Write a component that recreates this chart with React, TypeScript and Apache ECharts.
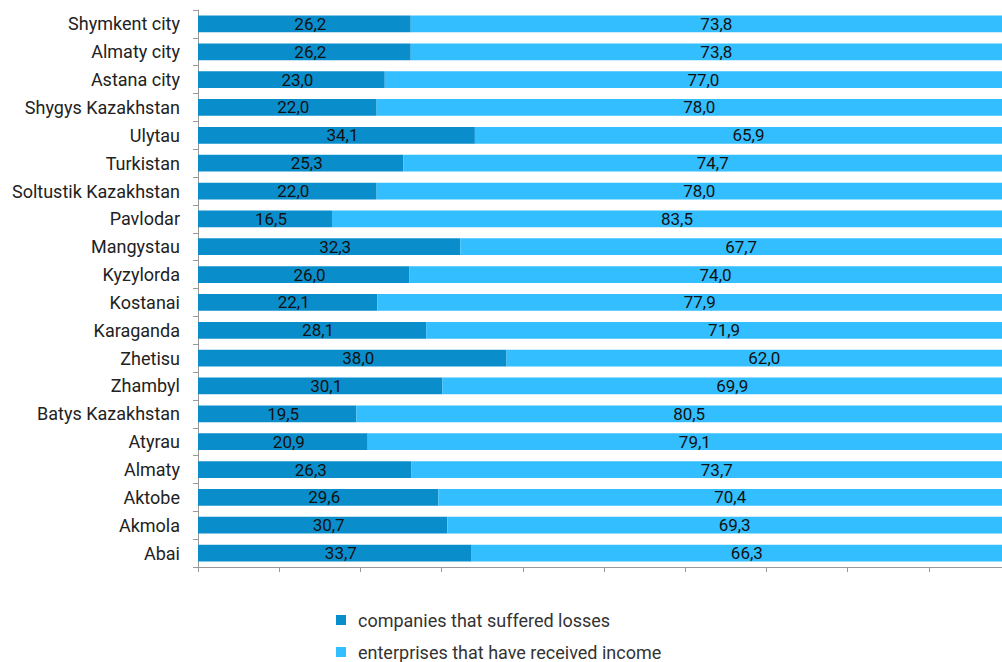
import React, { useEffect, useRef } from "react";
import * as echarts from "echarts";

const categories = [
  "Abai", "Akmola", "Aktobe", "Almaty", "Atyrau", "Batys Kazakhstan", "Zhambyl", "Zhetisu",
  "Karaganda", "Kostanai", "Kyzylorda", "Mangystau", "Pavlodar", "Soltustik Kazakhstan",
  "Turkistan", "Ulytau", "Shygys Kazakhstan", "Astana city", "Almaty city", "Shymkent city",
];
const losses = [33.7, 30.7, 29.6, 26.3, 20.9, 19.5, 30.1, 38.0, 28.1, 22.1, 26.0, 32.3, 16.5, 22.0, 25.3, 34.1, 22.0, 23.0, 26.2, 26.2];
const income = [66.3, 69.3, 70.4, 73.7, 79.1, 80.5, 69.9, 62.0, 71.9, 77.9, 74.0, 67.7, 83.5, 78.0, 74.7, 65.9, 78.0, 77.0, 73.8, 73.8];
const seriesNames = ["companies that suffered losses", "enterprises that have received income"];

const FONT = "Roboto, sans-serif";
const fmt = (p: any) => Number(p.value).toFixed(1).replace(".", ",");

export default function App() {
  const ref = useRef<HTMLDivElement>(null);
  useEffect(() => {
    document.body.style.margin = "0";
    const chart = echarts.init(ref.current!, null, { renderer: "svg" });
    const label = {
      show: true,
      position: "inside",
      offset: [6, 0],
      color: "#111",
      fontSize: 17,
      fontFamily: FONT,
      formatter: fmt,
    };
    chart.setOption({
      animation: false,
      grid: { left: 198, top: 10, bottom: 95, right: 0 },
      legend: {
        orient: "vertical",
        left: 336,
        top: 611,
        height: 100,
        padding: 0,
        itemWidth: 10,
        itemHeight: 10,
        itemGap: 14,
        icon: "rect",
        textStyle: { fontSize: 18, fontFamily: FONT, color: "#333", padding: [0, 0, 0, 7] },
        data: seriesNames,
      },
      xAxis: {
        type: "value",
        min: 0,
        max: 100,
        interval: 10,
        splitLine: { show: false },
        axisLabel: { show: false },
        axisLine: { show: true, lineStyle: { color: "#999" } },
        axisTick: { show: true, length: 5, lineStyle: { color: "#999" } },
      },
      yAxis: {
        type: "category",
        data: categories,
        axisLine: { show: true, lineStyle: { color: "#999" } },
        axisTick: { show: true, length: 5, lineStyle: { color: "#999" } },
        axisLabel: { margin: 18, fontSize: 18, fontFamily: FONT, color: "#222" },
      },
      series: [
        {
          name: seriesNames[0],
          type: "bar",
          stack: "total",
          barCategoryGap: "40%",
          data: losses,
          itemStyle: { color: "#0a8ecb" },
          label,
        },
        {
          name: seriesNames[1],
          type: "bar",
          stack: "total",
          barCategoryGap: "40%",
          data: income,
          itemStyle: { color: "#33beff" },
          label,
        },
      ],
    });
    return () => chart.dispose();
  }, []);
  return (
    <div style={{ position: "absolute", left: 0, top: 0, width: 1002, height: 662, overflow: "hidden" }}>
      <div ref={ref} style={{ width: 1010, height: 662 }} />
    </div>
  );
}
